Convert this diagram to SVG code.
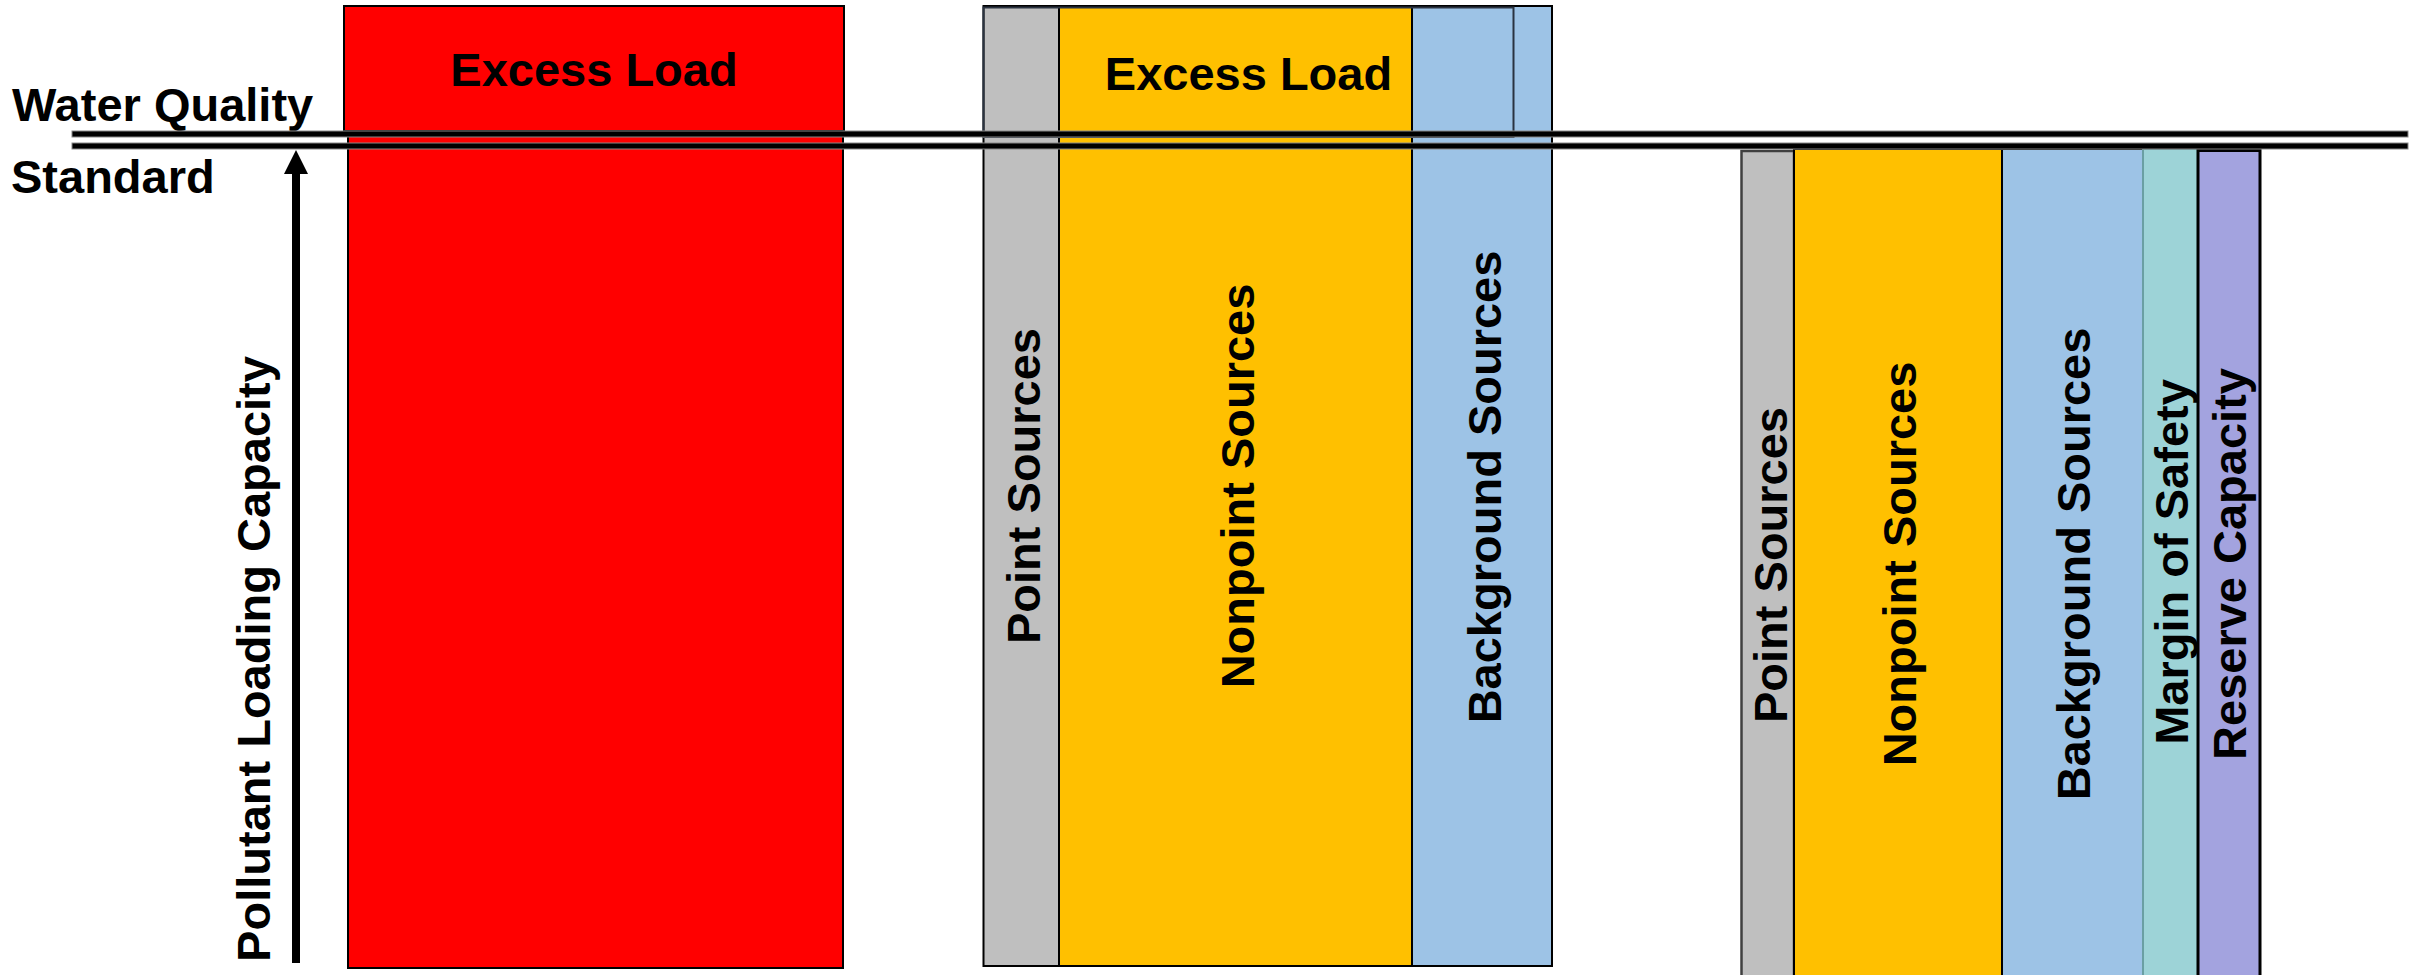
<svg xmlns="http://www.w3.org/2000/svg" width="2413" height="975" viewBox="0 0 2413 975">
<style>
text{font-family:"Liberation Sans",Arial,sans-serif;font-weight:bold;font-size:47px;fill:#000}
.bar{stroke:#000;stroke-width:2}
.red{fill:#FF0000}
.gray{fill:#BFBFBF}
.yel{fill:#FFC000}
.blue{fill:#9DC3E6}
.teal{fill:#9DD3D7}
.pur{fill:#A3A3DF}
.std{fill:#000;stroke:#888;stroke-width:1}
.v{text-anchor:middle}
</style>
<rect width="2413" height="975" fill="#fff"/>
<g id="labels">
<text x="12" y="121">Water Quality</text>
<text x="11" y="193">Standard</text>
<text class="v" transform="translate(269.5,659) rotate(-90)">Pollutant Loading Capacity</text>
</g>
<g id="col-existing">
<rect class="bar red" x="344" y="6" width="500" height="125" stroke-width="1.5"/>
<rect class="bar red" x="348" y="131" width="495" height="837" stroke-width="1.5"/>
<text class="v" x="594" y="86">Excess Load</text>
</g>
<g id="col-allocation">
<rect class="bar gray" x="983.5" y="6" width="75.5" height="960"/>
<rect class="bar yel" x="1059" y="6" width="353" height="960"/>
<rect class="bar blue" x="1412" y="6" width="140" height="960"/>
<rect x="983.5" y="7.5" width="530" height="129.5" fill="none" stroke="#2a3340" stroke-width="2"/>
<text class="v" x="1248.5" y="90">Excess Load</text>
<text class="v" transform="translate(1040,486) rotate(-90)">Point Sources</text>
<text class="v" transform="translate(1254,486) rotate(-90)">Nonpoint Sources</text>
<text class="v" transform="translate(1500.5,487) rotate(-90)">Background Sources</text>
</g>
<g id="col-tmdl">
<rect class="gray" x="1741.5" y="151" width="52.5" height="840" stroke="#404040" stroke-width="2.5"/>
<rect class="bar yel" x="1794" y="149" width="208" height="840"/>
<rect class="bar blue" x="2002" y="149" width="141" height="840"/>
<rect class="teal" x="2143" y="149" width="55" height="840" stroke="#6a9fa3" stroke-width="2"/>
<rect class="pur" x="2198" y="150.5" width="62" height="840" stroke="#000" stroke-width="3"/>
<text class="v" transform="translate(1786.5,565) rotate(-90)">Point Sources</text>
<text class="v" transform="translate(1916,564) rotate(-90)">Nonpoint Sources</text>
<text class="v" transform="translate(2090,564) rotate(-90)">Background Sources</text>
<text class="v" transform="translate(2188,562) rotate(-90)">Margin of Safety</text>
<text class="v" transform="translate(2246,564) rotate(-90)">Reserve Capacity</text>
</g>
<g id="connectors">
<rect class="std" x="72" y="131" width="2336" height="6"/>
<rect class="std" x="72" y="143" width="2336" height="6"/>
<rect x="292" y="172" width="8" height="791" fill="#000"/>
<polygon points="296,150 284,174 308,174" fill="#000"/>
</g>
</svg>
